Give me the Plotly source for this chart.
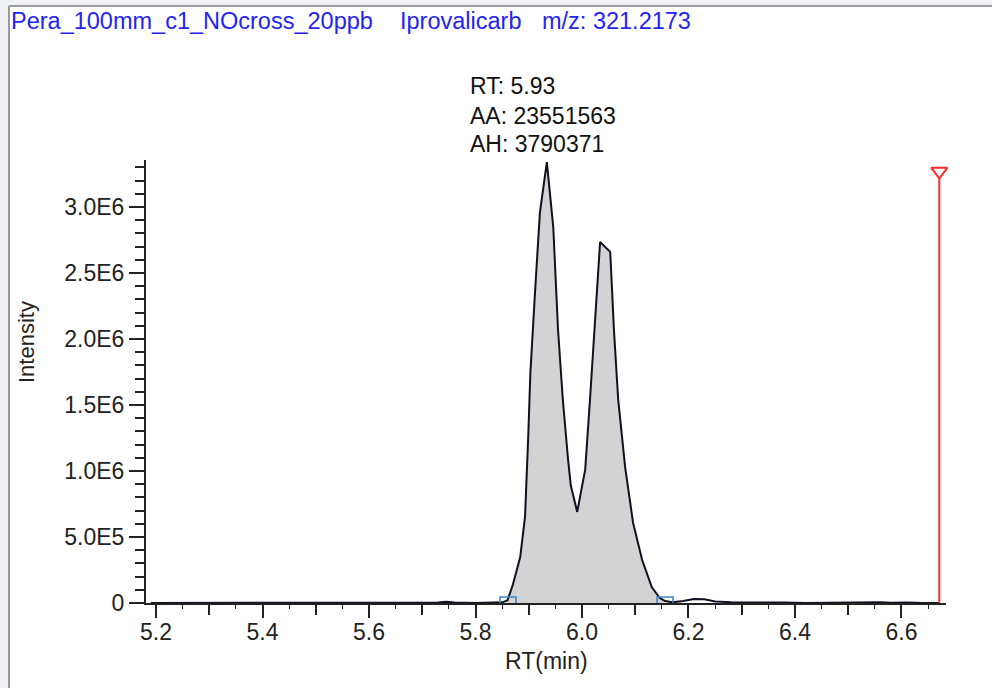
import plotly.graph_objects as go

# ---------------- data ----------------
rt_min = [5.19, 5.30, 5.40, 5.50, 5.60, 5.70, 5.73, 5.745, 5.76, 5.80, 5.84, 5.85,
          5.860, 5.870, 5.884, 5.893, 5.899, 5.903, 5.912, 5.921, 5.934, 5.946, 5.955,
          5.964, 5.974, 5.979, 5.991, 6.006, 6.015, 6.024, 6.034, 6.053, 6.060, 6.068,
          6.081, 6.096, 6.113, 6.131, 6.146, 6.156, 6.17, 6.19, 6.21, 6.23, 6.25, 6.28,
          6.32, 6.35, 6.38, 6.42, 6.48, 6.50, 6.53, 6.56, 6.58, 6.61, 6.64, 6.67]
intensity = [0, 0, 0, 0, 0, 0, 4000, 9000, 3000, 0, 0, 5000,
             20000, 136000, 348000, 652000, 1258000, 1740000, 2370000, 2960000, 3340000,
             2850000, 2070000, 1540000, 1080000, 890000, 690000, 1010000, 1540000, 2140000,
             2735000, 2660000, 2070000, 1540000, 1030000, 606000, 326000, 121000, 38000,
             15000, 5000, 15000, 30000, 28000, 12000, 6000, 5000, 9000, 3000, 0, 3000,
             6000, 2000, 5000, 1000, 4000, 0, 0]

peak_start = 5.861
peak_end = 6.156
apex_rt = 5.93
apex_area = 23551563
apex_height = 3790371

marker_rt = 6.671
marker_top = 3270000

x_tick_vals = [5.2, 5.4, 5.6, 5.8, 6.0, 6.2, 6.4, 6.6]
x_tick_text = ["5.2", "5.4", "5.6", "5.8", "6.0", "6.2", "6.4", "6.6"]
y_tick_vals = [0, 500000, 1000000, 1500000, 2000000, 2500000, 3000000]
y_tick_text = ["0", "5.0E5", "1.0E6", "1.5E6", "2.0E6", "2.5E6", "3.0E6"]

sample_name = "Pera_100mm_c1_NOcross_20ppb"
compound = "Iprovalicarb"
mz_text = "m/z: 321.2173"

# ---------------- layout geometry ----------------
W, H = 992, 688
L, R, T, B = 146, 946, 160, 603
x_range = [5.1812, 6.6836]
y_range = [0, 3356000]
FONT = "Liberation Sans, Arial, sans-serif"
FS = 23

# size of the integration-boundary brackets (in axis units)
BR_HALF_W = 0.015
BR_H = 45000


def px_x(px):
    return (px - L) / (R - L)


def px_y(py):
    return (B - py) / (B - T)


fig = go.Figure()

# filled integrated region
fx = [x for x in rt_min if peak_start - 0.002 <= x <= peak_end]
fy = [y for x, y in zip(rt_min, intensity) if peak_start - 0.002 <= x <= peak_end]
fig.add_trace(go.Scatter(x=fx, y=fy, mode="lines", fill="tozeroy",
                         fillcolor="#d3d3d3", line=dict(width=0, color="rgba(0,0,0,0)"),
                         hoverinfo="skip", showlegend=False))
# chromatogram trace
fig.add_trace(go.Scatter(x=rt_min, y=intensity, mode="lines",
                         line=dict(color="#101020", width=2),
                         showlegend=False))
# integration boundary brackets
for b in (peak_start, peak_end):
    fig.add_trace(go.Scatter(x=[b - BR_HALF_W, b - BR_HALF_W, b + BR_HALF_W, b + BR_HALF_W],
                             y=[0, BR_H, BR_H, 0], mode="lines",
                             line=dict(color="#3a87c8", width=1.6),
                             showlegend=False, hoverinfo="skip"))
# red marker line
fig.add_trace(go.Scatter(x=[marker_rt, marker_rt], y=[0, marker_top], mode="lines",
                         line=dict(color="#ff2a2a", width=2), showlegend=False))
fig.add_trace(go.Scatter(x=[marker_rt], y=[marker_top], mode="markers",
                         marker=dict(symbol="triangle-down", size=14, color="white",
                                     line=dict(color="#ff2a2a", width=2)),
                         showlegend=False, cliponaxis=False))
# dummy traces for overlay tick axes
for ax in ("x2", "x3"):
    fig.add_trace(go.Scatter(x=[x_range[0]], y=[0], xaxis=ax, mode="markers",
                             marker=dict(opacity=0), showlegend=False, hoverinfo="skip"))

axis_col = "#222222"
fig.update_layout(
    width=W, height=H,
    margin=dict(l=L, r=W - R, t=T, b=H - B),
    paper_bgcolor="white", plot_bgcolor="white",
    font=dict(family=FONT, size=FS, color="#222222"),
    xaxis=dict(range=x_range, showgrid=False, zeroline=False, showline=True,
               linecolor=axis_col, linewidth=2, ticks="outside", ticklen=7,
               tickwidth=1.6, tickcolor=axis_col, tickvals=x_tick_vals,
               ticktext=x_tick_text, tickfont=dict(size=FS, color="#222222"),
               minor=dict(dtick=0.1, tick0=5.2, ticks="outside", ticklen=10,
                          tickwidth=1.6, tickcolor=axis_col)),
    xaxis2=dict(range=x_range, overlaying="x", side="bottom", showgrid=False,
                zeroline=False, showline=False, ticks="outside", ticklen=5,
                tickwidth=1.4, tickcolor=axis_col, dtick=0.05, tick0=5.2,
                showticklabels=False),
    xaxis3=dict(range=x_range, overlaying="x", side="bottom", showgrid=False,
                zeroline=False, showline=False, ticks="outside", ticklen=14,
                tickwidth=1.6, tickcolor=axis_col, dtick=0.2, tick0=5.2,
                showticklabels=False),
    yaxis=dict(range=y_range, showgrid=False, zeroline=False, showline=True,
               linecolor=axis_col, linewidth=2, ticks="outside", ticklen=15,
               tickwidth=1.6, tickcolor=axis_col, tickvals=y_tick_vals,
               ticktext=y_tick_text, tickfont=dict(size=FS, color="#222222"),
               minor=dict(dtick=100000, tick0=0, ticks="outside", ticklen=9,
                          tickwidth=1.6, tickcolor=axis_col)),
)

# frame around the panel
shapes = [
    dict(type="rect", xref="paper", yref="paper", x0=px_x(0), x1=px_x(9),
         y0=px_y(H), y1=px_y(0), fillcolor="#eef0f3", line=dict(width=0), layer="below"),
    dict(type="rect", xref="paper", yref="paper", x0=px_x(0), x1=px_x(W),
         y0=px_y(6), y1=px_y(0), fillcolor="#eef0f3", line=dict(width=0), layer="below"),
    dict(type="line", xref="paper", yref="paper", x0=px_x(9), x1=px_x(9),
         y0=px_y(H), y1=px_y(6), line=dict(color="#9a9a9a", width=2)),
    dict(type="line", xref="paper", yref="paper", x0=px_x(9), x1=px_x(W),
         y0=px_y(6), y1=px_y(6), line=dict(color="#9a9a9a", width=2)),
]
fig.update_layout(shapes=shapes)

title_col = "#2424f2"
ann = [
    dict(text=sample_name, x=px_x(9), y=px_y(21)),
    dict(text=compound, x=px_x(398), y=px_y(21)),
    dict(text=mz_text, x=px_x(540), y=px_y(21)),
]
for a in ann:
    fig.add_annotation(xref="paper", yref="paper", showarrow=False, xanchor="left",
                       yanchor="middle", font=dict(family=FONT, size=23.5, color=title_col), **a)

info_lines = [f"RT: {apex_rt:.2f}", f"AA: {apex_area}", f"AH: {apex_height}"]
info_y = [86, 116, 144]
for txt, yy in zip(info_lines, info_y):
    fig.add_annotation(xref="paper", yref="paper", showarrow=False,
                       x=px_x(468), y=px_y(yy), xanchor="left", yanchor="middle",
                       text=txt, font=dict(family=FONT, size=FS, color="#111111"))

fig.add_annotation(xref="paper", yref="paper", showarrow=False,
                   x=px_x(546), y=px_y(661), xanchor="center", yanchor="middle",
                   text="RT(min)", font=dict(family=FONT, size=FS, color="#222222"))
fig.add_annotation(xref="paper", yref="paper", showarrow=False,
                   x=px_x(26), y=px_y(342), xanchor="center", yanchor="middle",
                   text="Intensity", textangle=-90,
                   font=dict(family=FONT, size=22, color="#222222"))

fig.write_html("out.html")
